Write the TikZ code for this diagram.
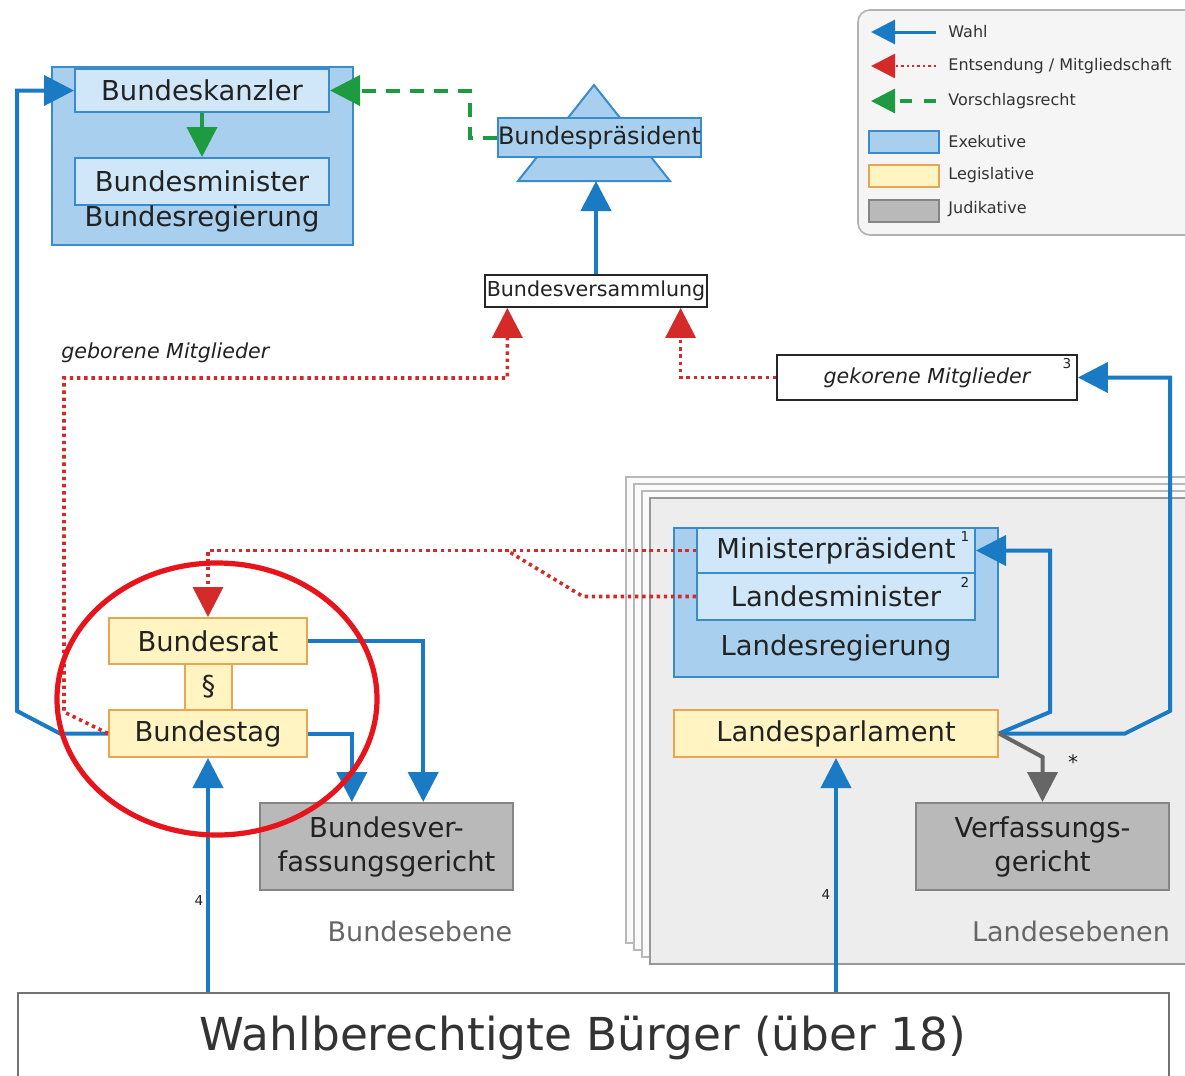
\documentclass[tikz,border=0pt]{standalone}
\usepackage{fontspec}
\setmainfont{DejaVu Sans}
\usetikzlibrary{arrows.meta,calc,shapes.geometric}
\definecolor{wblue}{HTML}{1B7AC4}
\definecolor{ered}{HTML}{D42A2A}
\definecolor{vgreen}{HTML}{1E9A40}
\definecolor{exfill}{HTML}{A8D0EE}
\definecolor{exin}{HTML}{CFE7F8}
\definecolor{exline}{HTML}{3A8BCB}
\definecolor{lefill}{HTML}{FFF4C2}
\definecolor{leline}{HTML}{E9A552}
\definecolor{jufill}{HTML}{B9B9B9}
\definecolor{juline}{HTML}{858585}
\definecolor{txt}{HTML}{222222}
\definecolor{redcirc}{HTML}{E8141B}
\begin{document}
\begin{tikzpicture}[x=0.5pt,y=-0.5pt,
  box/.style={rectangle, inner sep=0pt, text=txt, font=\fontsize{13.7}{17}\selectfont, align=center},
  exo/.style={box, fill=exfill, draw=exline, line width=1pt},
  exi/.style={box, fill=exin, draw=exline, line width=1pt},
  legis/.style={box, fill=lefill, draw=leline, line width=1pt},
  jud/.style={box, fill=jufill, draw=juline, line width=1pt},
  wahl/.style={draw=wblue, line width=2pt, -{Triangle[length=15pt,width=15pt]}},
  entsend/.style={draw=ered, line width=1.8pt, dash pattern=on 1.7pt off 1.9pt, -{Triangle[length=15pt,width=15pt]}},
  vorschlag/.style={draw=vgreen, line width=2pt, dash pattern=on 7pt off 5pt, -{Triangle[length=15pt,width=15pt]}},
  grayarrow/.style={draw=black!60, line width=2pt, -{Triangle[length=15pt,width=15pt]}},
  legtxt/.style={inner sep=0pt, anchor=west, text=black!80, font=\fontsize{8}{10}\selectfont},
  supr/.style={inner sep=0pt, text=txt, font=\fontsize{6.8}{8}\selectfont},
  lvl/.style={inner sep=0pt, text=black!60, font=\fontsize{13.5}{16}\selectfont},
  sw/.style={rectangle, inner sep=0pt, minimum width=35pt, minimum height=11pt, line width=1pt}
]
\clip (0,0) rectangle (1185,1076);
\fill[white] (0,0) rectangle (1185,1076);

% Landesebenen stack
\foreach \k in {3,2,1} {
  \draw[fill=black!2, draw=black!28, line width=0.6pt] (650-8*\k,498-7*\k) rectangle (1210-8*\k,964-7*\k);
}
\draw[fill=black!7, draw=black!40, line width=0.6pt] (650,498) rectangle (1210,964);

% legend
\draw[rounded corners=6pt, fill=black!4, draw=black!30, line width=0.8pt] (858,10) rectangle (1220,235);
\coordinate (lwa) at (936,32);  \coordinate (lwb) at (871,32);
\coordinate (lea) at (936,66);  \coordinate (leb) at (871,66);
\coordinate (lva) at (936,101); \coordinate (lvb) at (871,101);
\draw[wahl, line width=1.5pt, -{Triangle[length=12pt,width=12pt]}] (lwa) -- (lwb);
\draw[entsend, line width=1.3pt, dash pattern=on 1.2pt off 1.5pt, -{Triangle[length=12pt,width=12pt]}] (lea) -- (leb);
\draw[vorschlag, line width=1.6pt, dash pattern=on 6pt off 6pt, -{Triangle[length=12pt,width=12pt]}] (lva) -- (lvb);
\node[legtxt] (lt1) at (948,32) {Wahl};
\node[legtxt] (lt2) at (948,66) {Entsendung / Mitgliedschaft};
\node[legtxt] (lt3) at (948,101) {Vorschlagsrecht};
\node[sw, fill=exfill, draw=exline] (ls1) at (904,142) {};
\node[sw, fill=lefill, draw=leline] (ls2) at (904,176) {};
\node[sw, fill=jufill, draw=juline] (ls3) at (904,210.5) {};
\node[legtxt] (lt4) at (948,142) {Exekutive};
\node[legtxt] (lt5) at (948,175) {Legislative};
\node[legtxt] (lt6) at (948,209) {Judikative};

% Bundesregierung
\node[exo, minimum width=150.5pt, minimum height=89pt] (breg) at (202.5,156) {};
\node[exi, minimum width=127pt, minimum height=21.5pt] (bk) at (202,90.5) {Bundeskanzler};
\node[exi, minimum width=127pt, minimum height=23.5pt] (bm) at (202,181.5) {Bundesminister};
\node[box] (bregt) at (202,219) {Bundesregierung};

% Bundespraesident
\draw[fill=exfill, draw=exline, line width=1pt] (594,85) -- (670,181) -- (518,181) -- cycle;
\coordinate (tribase) at (594,181);
\node[exo, minimum width=98.5pt, minimum height=19.5pt, font=\fontsize{12}{14}\selectfont] (bp) at (599.5,137.5) {Bundespräsident};

\node[box, draw=black!85, fill=white, line width=0.9pt, minimum width=111pt, minimum height=16pt, font=\fontsize{10.3}{12}\selectfont] (bv) at (596,291) {Bundesversammlung};
\node[box, draw=black!85, fill=white, line width=0.9pt, minimum width=150pt, minimum height=22.5pt, font=\fontsize{10.3}{12}\selectfont\itshape] (gek) at (927,377.5) {gekorene Mitglieder};
\node[supr] (s3) at (1067,364) {3};
\node[inner sep=0pt, anchor=west, text=txt, font=\fontsize{10.3}{12}\selectfont\itshape] (geb) at (61,353) {geborene Mitglieder};

% Land
\node[exo, minimum width=162pt, minimum height=74.5pt] (lreg) at (836,602.5) {};
\node[exi, minimum width=139pt, minimum height=22.5pt] (mp) at (836,550.5) {Ministerpräsident};
\node[exi, minimum width=139pt, minimum height=23.5pt] (lm) at (836,596.5) {Landesminister};
\node[box] (lregt) at (836,648) {Landesregierung};
\node[supr] (s1) at (965,537) {1};
\node[supr] (s2) at (965,582) {2};
\node[legis, minimum width=162pt, minimum height=23.5pt] (lp) at (836,733.5) {Landesparlament};
\node[jud, minimum width=126.5pt, minimum height=43.5pt] (vg) at (1042.5,846.5) {Verfassungs-\\gericht};

% Bund
\node[legis, minimum width=23.5pt, minimum height=23pt] (para) at (208.5,687) {§};
\node[legis, minimum width=99pt, minimum height=23pt] (br) at (208,641) {Bundesrat};
\node[legis, minimum width=99pt, minimum height=23.5pt] (bt) at (208,733.5) {Bundestag};
\node[jud, minimum width=126.5pt, minimum height=43.5pt] (bvg) at (386.5,846.5) {Bundesver-\\fassungsgericht};
\node[lvl] (lb) at (420,931) {Bundesebene};
\node[lvl] (ll) at (1071,931) {Landesebenen};

% Buerger
\node[draw=black!55, fill=white, line width=1pt, minimum width=575.5pt, minimum height=46pt, inner sep=0pt] (bu) at (593.5,1039) {};
\node[inner sep=0pt, text=black!80, font=\fontsize{22.7}{26}\selectfont] (but) at (583,1038) {Wahlberechtigte Bürger (über 18)};

% connectors
\draw[wahl] (bt.west) -- (60,733.5) -- (17,711) |- (bk.west);
\draw[vorschlag] (bp.west) -- (470,137.5) |- (bk.east);
\draw[vorschlag] (bk.south) -- (bm.north);
\draw[wahl] (bv.north) -- (bv.north |- tribase);
\draw[entsend] (bt.west) -- (64,712) -- (64,378) -| ($(bv.south west)!0.104!(bv.south east)$);
\draw[entsend] (gek.west) -| ($(bv.south west)!0.878!(bv.south east)$);
\draw[wahl] (lp.east) -- (1050,712) |- (mp.east);
\draw[wahl] (lp.east) -- (1125,733.5) -- (1170,711) |- (gek.east);
\draw[grayarrow] (lp.east) -- (1042.5,757) -- (vg.north);
\node[inner sep=0pt, text=txt, font=\fontsize{10}{12}\selectfont] (star) at (1073,762) {*};
\draw[entsend] (mp.west) -| (br.north);
\coordinate (jn) at (507,550.5);
\draw[entsend, -] (lm.west) -- (583,596.5) -- (jn);
\draw[wahl] (br.east) -| ($(bvg.north west)!0.644!(bvg.north east)$);
\draw[wahl] (bt.east) -| ($(bvg.north west)!0.364!(bvg.north east)$);
\draw[wahl] (bt.south |- bu.north) -- (bt.south);
\draw[wahl] (lp.south |- bu.north) -- (lp.south);
\node[supr] (n4a) at (199,901) {4};
\node[supr] (n4b) at (826,895) {4};

% red circle
\draw[redcirc, line width=2.6pt] (217,699) ellipse [x radius=80pt, y radius=68pt];
\end{tikzpicture}
\end{document}
